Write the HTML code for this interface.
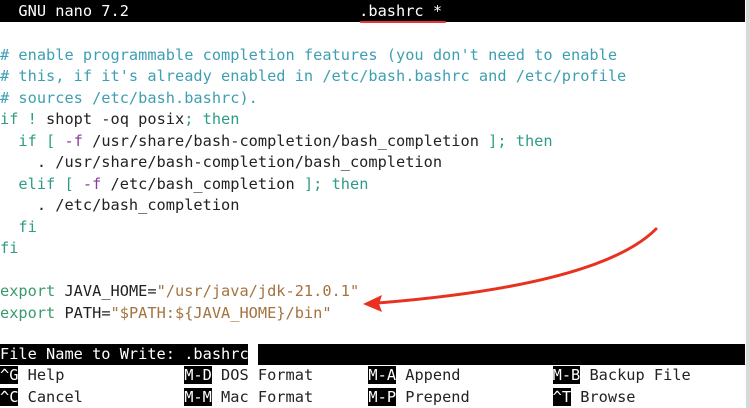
<!DOCTYPE html>
<html><head><meta charset="utf-8"><style>
html,body{margin:0;padding:0;background:#fff;width:750px;height:408px;overflow:hidden}
.s{position:relative;width:750px;height:408px;font-family:"DejaVu Sans Mono","Liberation Mono",monospace;font-size:15.3px;color:#222}
.r{position:absolute;left:0;height:21.47px;line-height:21.47px;white-space:pre}
.b{background:#000;color:#fff}
.c{color:#3d9fb2}.k{color:#2e9c86}.g{color:#3a9a6e}.p{color:#8b3b9b}.st{color:#a4733f}
.t{top:2px}
</style></head><body><div class="s">
<div class="r b" style="top:0;width:745px;height:22px;line-height:22px">  GNU nano 7.2                         .bashrc *</div>
<div style="position:absolute;left:360px;top:21px;width:86px;height:2px;background:#e33;border-radius:1px"></div>
<div style="position:absolute;left:0;top:2px;width:750px;height:330px">
<div class="r c" style="top:42.9px"># enable programmable completion features (you don't need to enable</div>
<div class="r c" style="top:64.4px"># this, if it's already enabled in /etc/bash.bashrc and /etc/profile</div>
<div class="r c" style="top:85.9px"># sources /etc/bash.bashrc).</div>
<div class="r" style="top:107.4px"><span class="k">if !</span> shopt -oq posix<span class="k">; then</span></div>
<div class="r" style="top:128.8px">  <span class="k">if [</span> <span class="p">-f</span> /usr/share/bash-completion/bash_completion <span class="k">]; then</span></div>
<div class="r" style="top:150.3px">    . /usr/share/bash-completion/bash_completion</div>
<div class="r" style="top:171.8px">  <span class="k">elif [</span> <span class="p">-f</span> /etc/bash_completion <span class="k">]; then</span></div>
<div class="r" style="top:193.2px">    . /etc/bash_completion</div>
<div class="r k" style="top:214.7px">  fi</div>
<div class="r k" style="top:236.2px">fi</div>
<div class="r" style="top:279.1px"><span class="g">export</span> JAVA_HOME=<span class="st">"/usr/java/jdk-21.0.1"</span></div>
<div class="r" style="top:300.6px"><span class="g">export</span> PATH=<span class="st">"$PATH:${JAVA_HOME}/bin"</span></div>
</div>
<div class="r b" style="top:343.5px;width:745px"></div>
<div class="r" style="top:343.5px;left:248px;width:10px;height:21.47px;background:#fff"></div>
<div class="r b" style="top:343.5px;background:transparent">File Name to Write: .bashrc</div>
<div class="r" style="top:365px"><span class="b">^G</span> Help             <span class="b">M-D</span> DOS Format      <span class="b">M-A</span> Append          <span class="b">M-B</span> Backup File</div>
<div class="r" style="top:386.5px"><span class="b">^C</span> Cancel           <span class="b">M-M</span> Mac Format      <span class="b">M-P</span> Prepend         <span class="b">^T</span> Browse</div>
<div style="position:absolute;left:746px;top:0;width:4px;height:408px;background:#d8d8d8"></div>
<svg style="position:absolute;left:0;top:0" width="750" height="408">
<path d="M656 229 Q600 285 378 303" fill="none" stroke="#e8311f" stroke-width="3" stroke-linecap="round"/>
<path d="M363 304 L382 295 L379 304 L382 312 Z" fill="#e8311f"/>
</svg>
</div></body></html>
